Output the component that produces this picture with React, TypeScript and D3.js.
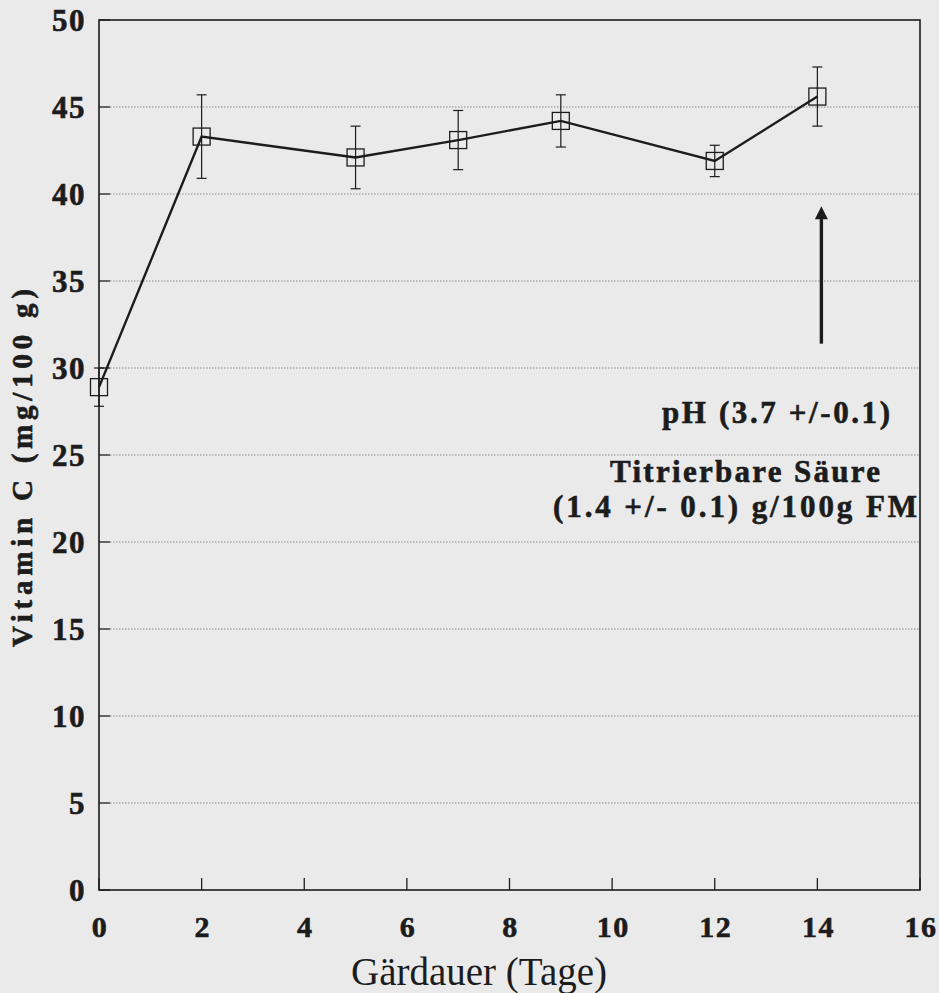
import React from "react";
import * as d3 from "d3";

const days = [0, 2, 5, 7, 9, 12, 14];
const vitaminC = [28.9, 43.3, 42.1, 43.1, 44.2, 41.9, 45.6];
const errors = [1.1, 2.4, 1.8, 1.7, 1.5, 0.9, 1.7];
const xTicks = [0, 2, 4, 6, 8, 10, 12, 14, 16];
const yTicks = [0, 5, 10, 15, 20, 25, 30, 35, 40, 45, 50];
const annotations = ["pH (3.7 +/-0.1)", "Titrierbare Säure", "(1.4 +/- 0.1) g/100g FM"];
const arrowDay = 14;
const arrowFrom = 31.4;
const arrowTo = 39.3;

const W = 939;
const H = 993;
const ink = "#1c1c1c";
const serif = "'Liberation Serif', 'DejaVu Serif', serif";
const heavy = { stroke: ink, strokeWidth: 0.6 };

export default function App() {
  const x = d3.scaleLinear().domain([0, 16]).range([99, 920]);
  const y = d3.scaleLinear().domain([0, 50]).range([890, 20]);
  const line = d3
    .line<number>()
    .x((_, i) => x(days[i]))
    .y((d) => y(d));
  const sq = 17;
  const cap = 5;
  return (
    <svg
      width={W}
      height={H}
      style={{ position: "absolute", left: 0, top: 0, background: "#eaeaea" }}
    >
      <rect x={0} y={0} width={W} height={H} fill="#eaeaea" />
      {/* grid lines */}
      {yTicks
        .filter((t) => t > 0 && t < 50)
        .map((t) => (
          <line
            key={"g" + t}
            x1={x(0) + 11}
            x2={x(16)}
            y1={y(t)}
            y2={y(t)}
            stroke="#8a8a8a"
            strokeWidth={1}
            strokeDasharray="1.5 1.5"
          />
        ))}
      {/* y ticks */}
      {yTicks.map((t) => (
        <line key={"yt" + t} x1={x(0)} x2={x(0) + 11} y1={y(t)} y2={y(t)} stroke={ink} strokeWidth={1.3} />
      ))}
      {/* x ticks */}
      {xTicks.map((t) => (
        <line key={"xt" + t} x1={x(t)} x2={x(t)} y1={y(0)} y2={y(0) - 12} stroke={ink} strokeWidth={1.3} />
      ))}
      {/* frame */}
      <rect
        x={x(0)}
        y={y(50)}
        width={x(16) - x(0)}
        height={y(0) - y(50)}
        fill="none"
        stroke={ink}
        strokeWidth={1.6}
      />
      {/* y tick labels */}
      {yTicks.map((t) => (
        <text
          key={"yl" + t}
          x={86}
          y={y(t)}
          dy="0.34em"
          textAnchor="end"
          fontFamily={serif}
          fontWeight="bold"
          fontSize={31}
          letterSpacing={1.5}
          fill={ink}
          {...heavy}
        >
          {t}
        </text>
      ))}
      {/* x tick labels */}
      {xTicks.map((t) => (
        <text
          key={"xl" + t}
          x={x(t) + 1}
          y={937}
          textAnchor="middle"
          fontFamily={serif}
          fontWeight="bold"
          fontSize={30}
          letterSpacing={1.5}
          fill={ink}
          {...heavy}
        >
          {t}
        </text>
      ))}
      {/* axis titles */}
      <text
        x={479}
        y={985}
        textAnchor="middle"
        fontFamily={serif}
        fontSize={39}
        fill={ink}
      >
        Gärdauer (Tage)
      </text>
      <text
        transform={`translate(32,468) rotate(-90)`}
        textAnchor="middle"
        fontFamily={serif}
        fontWeight="bold"
        fontSize={29}
        textLength={358}
        lengthAdjust="spacing"
        fill={ink}
        {...heavy}
      >
        Vitamin C (mg/100 g)
      </text>
      {/* error bars */}
      {days.map((d, i) => (
        <g key={"e" + i} stroke={ink} strokeWidth={1.2}>
          <line x1={x(d)} x2={x(d)} y1={y(vitaminC[i] + errors[i])} y2={y(vitaminC[i] - errors[i])} />
          <line x1={x(d) - cap} x2={x(d) + cap} y1={y(vitaminC[i] + errors[i])} y2={y(vitaminC[i] + errors[i])} />
          <line x1={x(d) - cap} x2={x(d) + cap} y1={y(vitaminC[i] - errors[i])} y2={y(vitaminC[i] - errors[i])} />
        </g>
      ))}
      {/* line */}
      <path d={line(vitaminC) || ""} fill="none" stroke={ink} strokeWidth={2.4} />
      {/* markers */}
      {days.map((d, i) => (
        <rect
          key={"m" + i}
          x={x(d) - sq / 2}
          y={y(vitaminC[i]) - sq / 2}
          width={sq}
          height={sq}
          fill="none"
          stroke={ink}
          strokeWidth={1.3}
        />
      ))}
      {/* arrow */}
      <line x1={x(arrowDay) + 4} x2={x(arrowDay) + 4} y1={y(arrowFrom)} y2={y(arrowTo) + 10} stroke={ink} strokeWidth={3.4} />
      <path
        d={`M${x(arrowDay) + 4},${y(arrowTo)} L${x(arrowDay) - 2.5},${y(arrowTo) + 13} L${x(arrowDay) + 10.5},${y(arrowTo) + 13} Z`}
        fill={ink}
      />
      {/* annotations */}
      <text x={890} y={423} textAnchor="end" fontFamily={serif} fontWeight="bold" fontSize={31} textLength={228} lengthAdjust="spacing" fill={ink} {...heavy}>
        {annotations[0]}
      </text>
      <text x={880} y={482} textAnchor="end" fontFamily={serif} fontWeight="bold" fontSize={31} textLength={270} lengthAdjust="spacing" fill={ink} {...heavy}>
        {annotations[1]}
      </text>
      <text x={917} y={517} textAnchor="end" fontFamily={serif} fontWeight="bold" fontSize={31} textLength={364} lengthAdjust="spacing" fill={ink} {...heavy}>
        {annotations[2]}
      </text>
    </svg>
  );
}
